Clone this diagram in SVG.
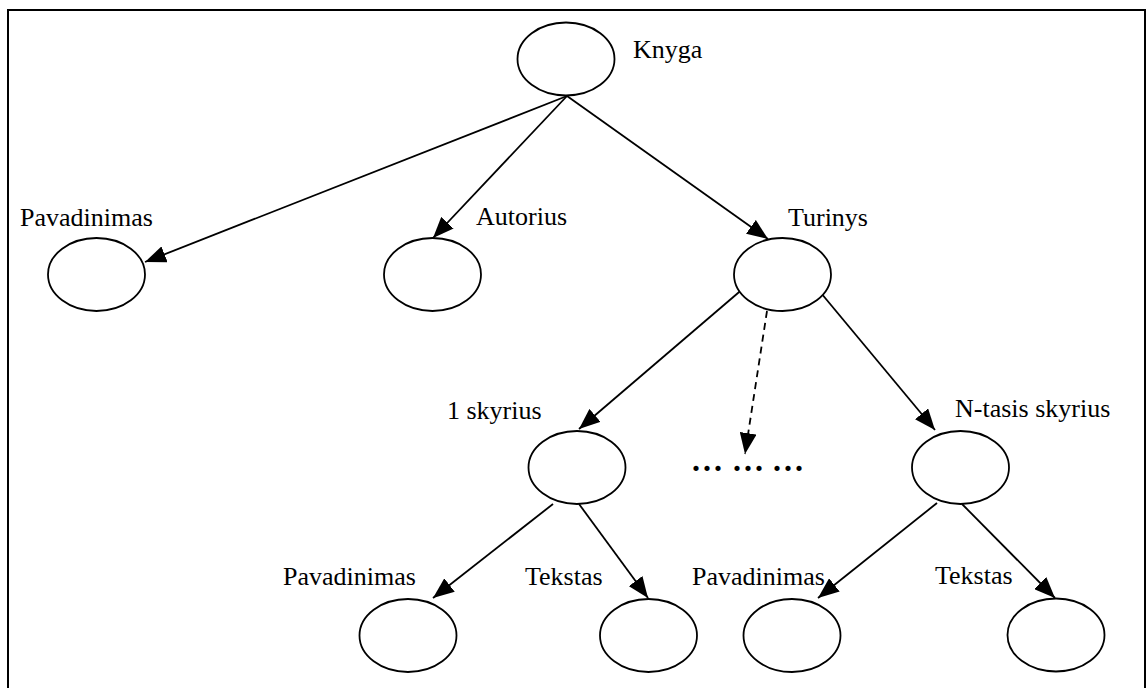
<svg xmlns="http://www.w3.org/2000/svg" width="1147" height="688" viewBox="0 0 1147 688">
  <style>
    .node ellipse { fill: #fff; stroke: #000; stroke-width: 1.8; }
    .lbl { font-size: 26px; fill: #000; }
    .edge { stroke: #000; stroke-width: 1.8; fill: none; }
    .dash { stroke-dasharray: 7 5; }
  </style>
  <defs>
    <marker id="arrow" markerUnits="userSpaceOnUse" markerWidth="21" markerHeight="17" viewBox="0 0 21 17" refX="21" refY="8.5" orient="auto">
      <path d="M0,0 L21,8.5 L0,17 Z" fill="#000"/>
    </marker>
  </defs>

  <rect width="1147" height="688" fill="#fff"/>
  <!-- frame -->
  <path d="M8,688 V10 H1145 V688" fill="none" stroke="#000" stroke-width="2"/>

  <!-- connectors -->
  <g id="connectors">
    <line class="edge" x1="567" y1="96" x2="145" y2="262" marker-end="url(#arrow)"/>
    <line class="edge" x1="567" y1="96" x2="433" y2="238" marker-end="url(#arrow)"/>
    <line class="edge" x1="567" y1="96" x2="768" y2="239" marker-end="url(#arrow)"/>
    <line class="edge" x1="745" y1="287" x2="579" y2="429" marker-end="url(#arrow)"/>
    <line class="edge dash" x1="767" y1="311" x2="745" y2="454" marker-end="url(#arrow)"/>
    <line class="edge" x1="816" y1="287" x2="935" y2="430" marker-end="url(#arrow)"/>
    <line class="edge" x1="553" y1="504" x2="433" y2="598" marker-end="url(#arrow)"/>
    <line class="edge" x1="579" y1="504" x2="648" y2="598" marker-end="url(#arrow)"/>
    <line class="edge" x1="937" y1="503" x2="818" y2="598" marker-end="url(#arrow)"/>
    <line class="edge" x1="962" y1="504" x2="1055" y2="598" marker-end="url(#arrow)"/>
  </g>

  <!-- nodes -->
  <g font-family="'Liberation Serif', 'Times New Roman', serif">
    <g id="knyga" class="node">
      <ellipse cx="566" cy="59" rx="48.5" ry="36.5"/>
      <text class="lbl" x="633" y="58">Knyga</text>
    </g>
    <g id="pavadinimas" class="node">
      <ellipse cx="96.5" cy="274.5" rx="48.5" ry="36.5"/>
      <text class="lbl" x="20" y="226">Pavadinimas</text>
    </g>
    <g id="autorius" class="node">
      <ellipse cx="432.5" cy="274.5" rx="48.5" ry="36.5"/>
      <text class="lbl" x="476" y="225">Autorius</text>
    </g>
    <g id="turinys" class="node">
      <ellipse cx="782.5" cy="274.5" rx="48.5" ry="36.5"/>
      <text class="lbl" x="788" y="226">Turinys</text>
    </g>
    <g id="skyrius1" class="node">
      <ellipse cx="577" cy="467.5" rx="48.5" ry="36.5"/>
      <text class="lbl" x="447" y="419">1 skyrius</text>
    </g>
    <g id="tarpiniai" class="node">
      <!-- three groups of three dots, each dot placed on its own -->
      <text x="692 703 714 733 744 755 773 784 795" y="471" font-size="32" font-weight="bold" fill="#000">.........</text>
    </g>
    <g id="skyriusN" class="node">
      <ellipse cx="960.5" cy="467.5" rx="48.5" ry="36.5"/>
      <text class="lbl" x="955" y="417">N-tasis skyrius</text>
    </g>
    <g id="s1-pavadinimas" class="node">
      <ellipse cx="408" cy="635.5" rx="48.5" ry="36.5"/>
      <text class="lbl" x="283" y="585">Pavadinimas</text>
    </g>
    <g id="s1-tekstas" class="node">
      <ellipse cx="648.5" cy="635.5" rx="48.5" ry="36.5"/>
      <text class="lbl" x="525" y="585">Tekstas</text>
    </g>
    <g id="sN-pavadinimas" class="node">
      <ellipse cx="792" cy="635.5" rx="48.5" ry="36.5"/>
      <text class="lbl" x="692" y="585">Pavadinimas</text>
    </g>
    <g id="sN-tekstas" class="node">
      <ellipse cx="1056" cy="635" rx="48.5" ry="36.5"/>
      <text class="lbl" x="935" y="584">Tekstas</text>
    </g>
  </g>
</svg>
